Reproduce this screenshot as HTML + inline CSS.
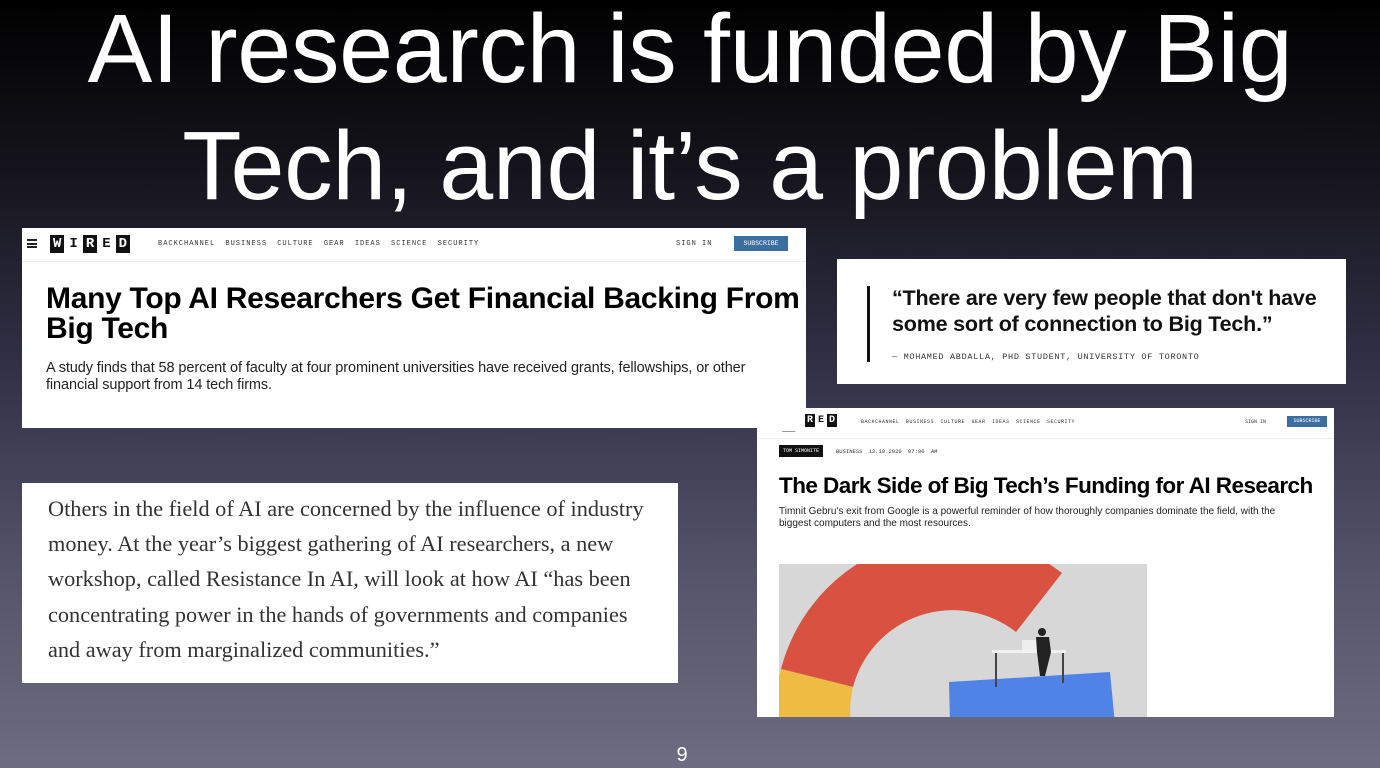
<!DOCTYPE html>
<html><head><meta charset="utf-8">
<style>
*{margin:0;padding:0;box-sizing:border-box}
body{width:1380px;height:768px;overflow:hidden;position:relative;font-family:"Liberation Sans",sans-serif;
background:linear-gradient(180deg,#000 0%,#15141c 22%,#34334a 50%,#55546a 75%,#6d6c80 100%)}
.abs{position:absolute}
.card{position:absolute;background:#fff}
.mono{font-family:"Liberation Mono",monospace;color:#333}
</style></head><body>
<div class="abs" style="left:-100px;top:-10px;width:1580px;text-align:center;color:#fff;font-size:97px;line-height:117px;white-space:nowrap;letter-spacing:-0.3px">AI research is funded by Big<br>Tech, and it’s a problem</div>

<div class="card" style="left:22px;top:228px;width:784px;height:200px">
  <div class="abs" style="left:5px;top:11px;width:10px;height:9px;border-top:2px solid #222;border-bottom:2px solid #222"><div style="margin-top:1.5px;height:2px;background:#222"></div></div>
  <div class="abs" style="left:28px;top:7px;display:flex;gap:2px">
    <span style="background:#111;color:#fff;font:bold 14px 'Liberation Mono';padding:0 3px;line-height:18px">W</span><span style="color:#111;font:bold 14px 'Liberation Mono';padding:0 3px;line-height:18px">I</span><span style="background:#111;color:#fff;font:bold 14px 'Liberation Mono';padding:0 3px;line-height:18px">R</span><span style="color:#111;font:bold 14px 'Liberation Mono';padding:0 3px;line-height:18px">E</span><span style="background:#111;color:#fff;font:bold 14px 'Liberation Mono';padding:0 3px;line-height:18px">D</span>
  </div>
  <div class="abs mono" style="left:136px;top:12px;font-size:7px;word-spacing:5px;letter-spacing:1px">BACKCHANNEL BUSINESS CULTURE GEAR IDEAS SCIENCE SECURITY</div>
  <div class="abs mono" style="left:654px;top:12px;font-size:7px;letter-spacing:1px">SIGN IN</div>
  <div class="abs" style="left:712px;top:8px;width:54px;height:15px;background:#3c6ea0;color:#fff;font:6.5px 'Liberation Mono';text-align:center;line-height:15px">SUBSCRIBE</div>
  <div class="abs" style="left:0;top:33px;width:784px;height:1px;background:#eee"></div>
  <div class="abs" style="left:24px;top:56px;font-weight:bold;font-size:30px;line-height:30px;letter-spacing:-0.3px;color:#000;white-space:nowrap">Many Top AI Researchers Get Financial Backing From<br>Big Tech</div>
  <div class="abs" style="left:24px;top:132px;font-size:14.5px;line-height:17px;color:#222;letter-spacing:-0.1px;white-space:nowrap">A study finds that 58 percent of faculty at four prominent universities have received grants, fellowships, or other<br>financial support from 14 tech firms.</div>
</div>

<div class="card" style="left:837px;top:259px;width:509px;height:125px">
  <div class="abs" style="left:30px;top:27px;width:3px;height:76px;background:#111"></div>
  <div class="abs" style="left:55px;top:26px;font-weight:bold;font-size:21.5px;line-height:26px;color:#111;letter-spacing:-0.2px;white-space:nowrap">“There are very few people that don't have<br>some sort of connection to Big Tech.”</div>
  <div class="abs mono" style="left:55px;top:93px;font-size:8.5px;letter-spacing:0.7px">— MOHAMED ABDALLA, PHD STUDENT, UNIVERSITY OF TORONTO</div>
</div>

<div class="card" style="left:22px;top:483px;width:656px;height:200px">
  <div class="abs" style="left:26px;top:8px;font-family:'Liberation Serif',serif;font-size:22.3px;line-height:35.2px;color:#333;white-space:nowrap">Others in the field of AI are concerned by the influence of industry<br>money. At the year’s biggest gathering of AI researchers, a new<br>workshop, called Resistance In AI, will look at how AI “has been<br>concentrating power in the hands of governments and companies<br>and away from marginalized communities.”</div>
</div>

<div class="card" style="left:757px;top:408px;width:577px;height:309px">
  <div class="abs" style="left:25px;top:23px;width:13px;height:1px;background:#999"></div>
  <div class="abs" style="left:48px;top:6px;display:flex;gap:1px">
    <span style="background:#111;color:#fff;font:bold 10px 'Liberation Mono';padding:0 2px;line-height:13px">R</span><span style="color:#111;font:bold 10px 'Liberation Mono';padding:0 2px;line-height:13px">E</span><span style="background:#111;color:#fff;font:bold 10px 'Liberation Mono';padding:0 2px;line-height:13px">D</span>
  </div>
  <div class="abs mono" style="left:104px;top:11px;font-size:5px;word-spacing:3px;letter-spacing:0.5px">BACKCHANNEL BUSINESS CULTURE GEAR IDEAS SCIENCE SECURITY</div>
  <div class="abs mono" style="left:488px;top:11px;font-size:5px">SIGN IN</div>
  <div class="abs" style="left:530px;top:8px;width:40px;height:11px;background:#3c6ea0;color:#fff;font:5px 'Liberation Mono';text-align:center;line-height:11px">SUBSCRIBE</div>
  <div class="abs" style="left:0;top:30px;width:577px;height:1px;background:#eee"></div>
  <div class="abs" style="left:22px;top:37px;width:44px;height:12px;background:#111;color:#fff;font:5px 'Liberation Mono';text-align:center;line-height:12px">TOM SIMONITE</div>
  <div class="abs mono" style="left:79px;top:40px;font-size:5.5px;word-spacing:3px">BUSINESS 12.10.2020 07:00 AM</div>
  <div class="abs" style="left:22px;top:65px;font-weight:bold;font-size:22.5px;color:#000;letter-spacing:-0.55px;white-space:nowrap">The Dark Side of Big Tech’s Funding for AI Research</div>
  <div class="abs" style="left:22px;top:98px;font-size:10px;line-height:12px;color:#222;white-space:nowrap">Timnit Gebru's exit from Google is a powerful reminder of how thoroughly companies dominate the field, with the<br>biggest computers and the most resources.</div>
  <svg class="abs" style="left:22px;top:156px" width="368" height="153" viewBox="0 0 368 153">
    <defs><clipPath id="c"><rect width="368" height="153"/></clipPath></defs>
    <rect width="368" height="153" fill="#d7d7d7"/>
    <g clip-path="url(#c)">
      <path d="M74,123 A103,103 0 0 1 237,68 L283,9 A178,178 0 0 0 2,105 Z" fill="#d95241"/>
      <path d="M2,105 A178,178 0 0 0 -4,160 L72,160 A103,103 0 0 1 74,123 Z" fill="#f0bb42"/>
      <path d="M170,118 L331,108 L336,160 L171,160 Z" fill="#4f84e6"/>
      <rect x="213" y="86" width="74" height="3" fill="#f2f2f2"/>
      <rect x="216" y="89" width="2" height="34" fill="#444"/><rect x="283" y="89" width="2" height="30" fill="#444"/>
      <rect x="243" y="76" width="15" height="10" fill="#eee"/>
      <circle cx="263" cy="68" r="4" fill="#222"/>
      <path d="M257,73 L270,73 L272,88 L266,112 L261,112 L258,88 Z" fill="#222"/>
    </g>
  </svg>
</div>

<div class="abs" style="left:672px;top:744px;width:20px;text-align:center;color:#fff;font-size:20px">9</div>
</body></html>
